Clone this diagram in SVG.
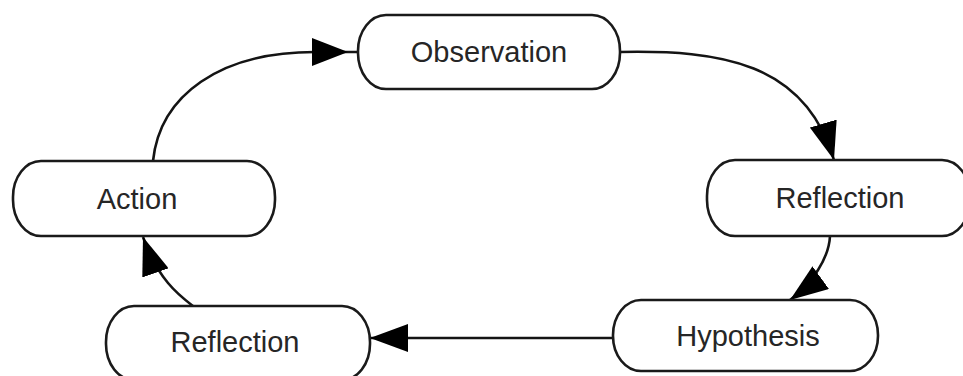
<svg xmlns="http://www.w3.org/2000/svg" width="963" height="376" viewBox="0 0 963 376">
  <style>
    .node rect { fill: #ffffff; stroke: #1a1a1a; stroke-width: 2.6; }
    .node text { font-family: "Liberation Sans", Arial, sans-serif; font-size: 29px; fill: #262626; text-anchor: middle; }
    .edge { fill: none; stroke: #141414; stroke-width: 2.6; }
  </style>
  <defs>
    <marker id="arrow" markerUnits="userSpaceOnUse" viewBox="0 0 38 28" markerWidth="38" markerHeight="28" refX="38" refY="14" orient="auto">
      <path d="M0,0 L38,14 L0,28 z" fill="#000000"/>
    </marker>
    <marker id="arrow-gap" markerUnits="userSpaceOnUse" viewBox="0 0 46 28" markerWidth="46" markerHeight="28" refX="46" refY="14" orient="auto">
      <path d="M0,0 L36,14 L0,28 z" fill="#000000"/>
    </marker>
  </defs>

  <g id="connectors">
    <!-- Action -> Observation -->
    <path class="edge" d="M153,161 C160,95 220,52 315,52 L358,52" marker-end="url(#arrow-gap)"/>
    <!-- Observation -> Reflection (right) -->
    <path class="edge" d="M620,52 C720,50 805,62 834,160" marker-end="url(#arrow)"/>
    <!-- Reflection (right) -> Hypothesis -->
    <path class="edge" d="M830,236 C829,258 812,284 790,300" marker-end="url(#arrow)"/>
    <!-- Hypothesis -> Reflection (left) -->
    <path class="edge" d="M613,338 L370,338" marker-end="url(#arrow)"/>
    <!-- Reflection (left) -> Action -->
    <path class="edge" d="M193,306 C180,296 158,280 143,237" marker-end="url(#arrow)"/>
  </g>

  <g id="observation" class="node">
    <rect x="358" y="15" width="262" height="74" rx="28" ry="36"/>
    <text x="489" y="62">Observation</text>
  </g>

  <g id="action" class="node">
    <rect x="13" y="161" width="262" height="75" rx="28" ry="36"/>
    <text x="137" y="209">Action</text>
  </g>

  <g id="reflection-right" class="node">
    <rect x="707" y="160" width="263" height="76" rx="28" ry="36"/>
    <text x="840" y="208">Reflection</text>
  </g>

  <g id="hypothesis" class="node">
    <rect x="613" y="300" width="265" height="71" rx="28" ry="35"/>
    <text x="748" y="346">Hypothesis</text>
  </g>

  <g id="reflection-left" class="node">
    <rect x="106" y="306" width="264" height="74" rx="28" ry="36"/>
    <text x="235" y="352">Reflection</text>
  </g>
</svg>
